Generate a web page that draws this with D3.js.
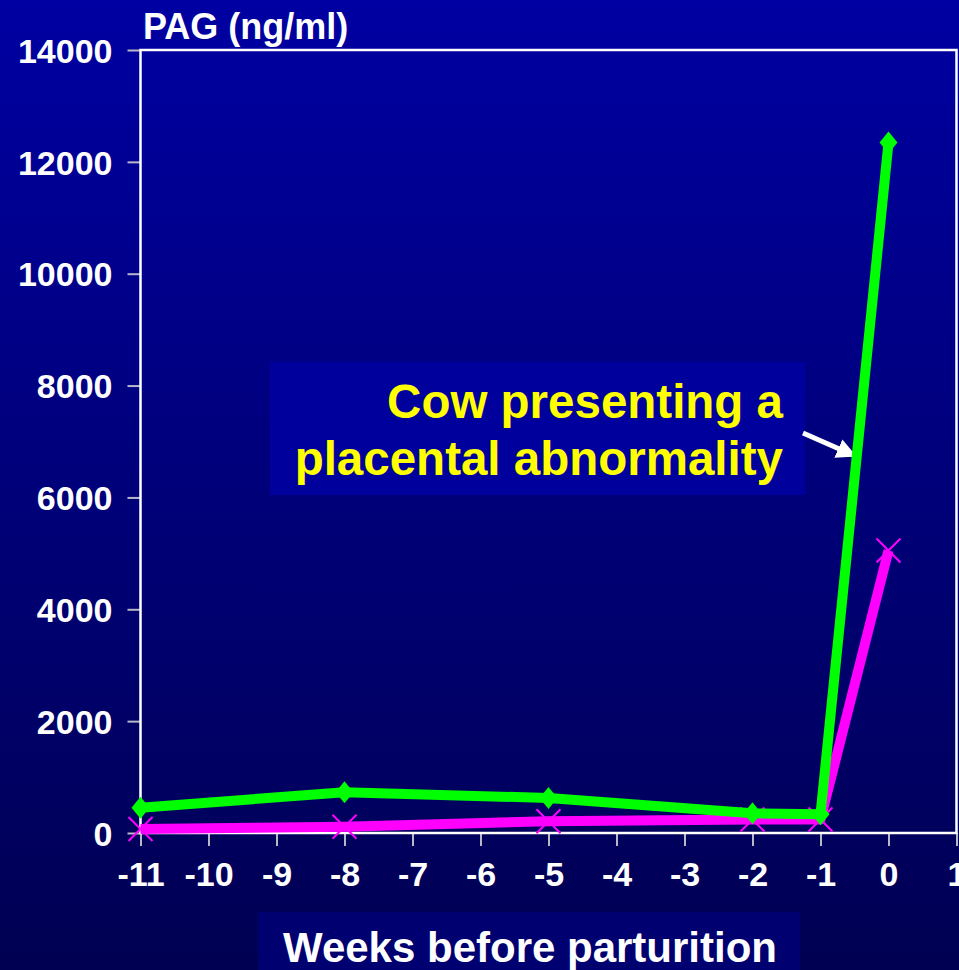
<!DOCTYPE html>
<html lang="en">
<head>
  <meta charset="utf-8">
  <title>PAG before parturition</title>
  <script src="https://d3js.org/d3.v7.min.js"></script>
  <style>
    html, body { margin: 0; padding: 0; }
    body { width: 959px; height: 970px; overflow: hidden; font-family: 'Liberation Sans', Arial, sans-serif; }
    .axis text { fill: #fff; font-weight: bold; font-size: 34px; font-family: 'Liberation Sans', Arial, sans-serif; }
    .axis line { stroke: #b8b8c8; stroke-width: 2px; }
    .axis path { display: none; }
  </style>
</head>
<body>
  <div id="chart"></div>
  <script>

    var weeks = [-11, -8, -5, -2, -1, 0];
    var abnormalCow = [452, 730, 626, 352, 334, 12345];
    var normalCow = [72, 113, 210, 240, 240, 5050];
    var yTicks = [0, 2000, 4000, 6000, 8000, 10000, 12000, 14000];
    var xTicks = [-11, -10, -9, -8, -7, -6, -5, -4, -3, -2, -1, 0, 1];

    var W = 959, H = 970;
    var margin = { top: 50, right: 2.5, bottom: 137, left: 140.5 };

    var svg = d3.select('#chart')
                .append('svg')
                .attr('width', W)
                .attr('height', H);

    var defs = svg.append('defs');
    var grad = defs.append('linearGradient')
                   .attr('id', 'bg')
                   .attr('x1', 0).attr('y1', 0)
                   .attr('x2', 0).attr('y2', 1);
    grad.append('stop').attr('offset', '0%').attr('stop-color', '#0000a2');
    grad.append('stop').attr('offset', '100%').attr('stop-color', '#000052');

    svg.append('rect')
       .attr('width', W)
       .attr('height', H)
       .attr('fill', 'url(#bg)');

    var xScale = d3.scaleLinear()
                   .domain([-11, 1])
                   .range([margin.left, W - margin.right]);

    var yScale = d3.scaleLinear()
                   .domain([0, 14000])
                   .range([H - margin.bottom, margin.top]);

    var plain = function(d) { return String(d); };

    // axes
    svg.append('g')
       .attr('class', 'axis')
       .attr('transform', 'translate(' + margin.left + ',0)')
       .call(d3.axisLeft(yScale).tickValues(yTicks).tickSize(13).tickPadding(15).tickFormat(plain))
       .selectAll('text').attr('dy', '0.36em');

    svg.append('g')
       .attr('class', 'axis')
       .attr('transform', 'translate(0,' + yScale(0) + ')')
       .call(d3.axisBottom(xScale).tickValues(xTicks).tickSize(13).tickPadding(16).tickFormat(plain));

    // plot frame
    svg.append('rect')
       .attr('x', xScale(-11))
       .attr('y', yScale(14000))
       .attr('width', xScale(1) - xScale(-11))
       .attr('height', yScale(0) - yScale(14000))
       .attr('fill', 'none')
       .attr('stroke', '#fff')
       .attr('stroke-width', 2.5);

    svg.append('text')
       .attr('x', 143)
       .attr('y', 39)
       .attr('fill', '#fff')
       .attr('font-weight', 'bold')
       .attr('font-size', 36)
       .text('PAG (ng/ml)');

    // x axis title with box
    svg.append('rect')
       .attr('x', 258).attr('y', 912)
       .attr('width', 542).attr('height', 60)
       .attr('fill', '#000070');

    svg.append('text')
       .attr('x', 530)
       .attr('y', 962)
       .attr('text-anchor', 'middle')
       .attr('fill', '#fff')
       .attr('font-weight', 'bold')
       .attr('font-size', 42)
       .text('Weeks before parturition');

    // annotation
    svg.append('rect')
       .attr('x', 270).attr('y', 362)
       .attr('width', 535).attr('height', 133)
       .attr('fill', '#00009c');

    var note = svg.append('text')
                  .attr('text-anchor', 'end')
                  .attr('fill', '#ffff00')
                  .attr('font-weight', 'bold')
                  .attr('font-size', 47.5);
    note.append('tspan').attr('x', 783).attr('y', 418).text('Cow presenting a');
    note.append('tspan').attr('x', 783).attr('y', 475).text('placental abnormality');

    defs.append('marker')
        .attr('id', 'arrow')
        .attr('viewBox', '0 0 10 10')
        .attr('refX', 8).attr('refY', 5)
        .attr('markerWidth', 4).attr('markerHeight', 4)
        .attr('orient', 'auto')
        .append('path')
        .attr('d', 'M0,0 L10,5 L0,10 z')
        .attr('fill', '#fff');

    svg.append('line')
       .attr('x1', 803).attr('y1', 433)
       .attr('x2', 853).attr('y2', 455)
       .attr('stroke', '#fff')
       .attr('stroke-width', 5)
       .attr('marker-end', 'url(#arrow)');

    // series
    var line = d3.line()
                 .x(function(d) { return xScale(d[0]); })
                 .y(function(d) { return yScale(d[1]); });

    var normalData = d3.zip(weeks, normalCow);
    var abnormalData = d3.zip(weeks, abnormalCow);

    svg.append('path')
       .datum(normalData)
       .attr('d', line)
       .attr('fill', 'none')
       .attr('stroke', '#ff00ff')
       .attr('stroke-width', 10)
       .attr('stroke-linejoin', 'round');

    svg.selectAll('.xmark')
       .data(normalData)
       .enter()
       .append('path')
       .attr('class', 'xmark')
       .attr('transform', function(d) { return 'translate(' + xScale(d[0]) + ',' + yScale(d[1]) + ')'; })
       .attr('d', 'M-12,-12L12,12M-12,12L12,-12')
       .attr('stroke', '#ff00ff')
       .attr('stroke-width', 2);

    svg.append('path')
       .datum(abnormalData)
       .attr('d', line)
       .attr('fill', 'none')
       .attr('stroke', '#00ff00')
       .attr('stroke-width', 10)
       .attr('stroke-linejoin', 'round');

    svg.selectAll('.diamond')
       .data(abnormalData)
       .enter()
       .append('path')
       .attr('class', 'diamond')
       .attr('transform', function(d) { return 'translate(' + xScale(d[0]) + ',' + yScale(d[1]) + ')'; })
       .attr('d', 'M0,-11L9,0L0,11L-9,0Z')
       .attr('fill', '#00ff00');

  </script>
</body>
</html>
